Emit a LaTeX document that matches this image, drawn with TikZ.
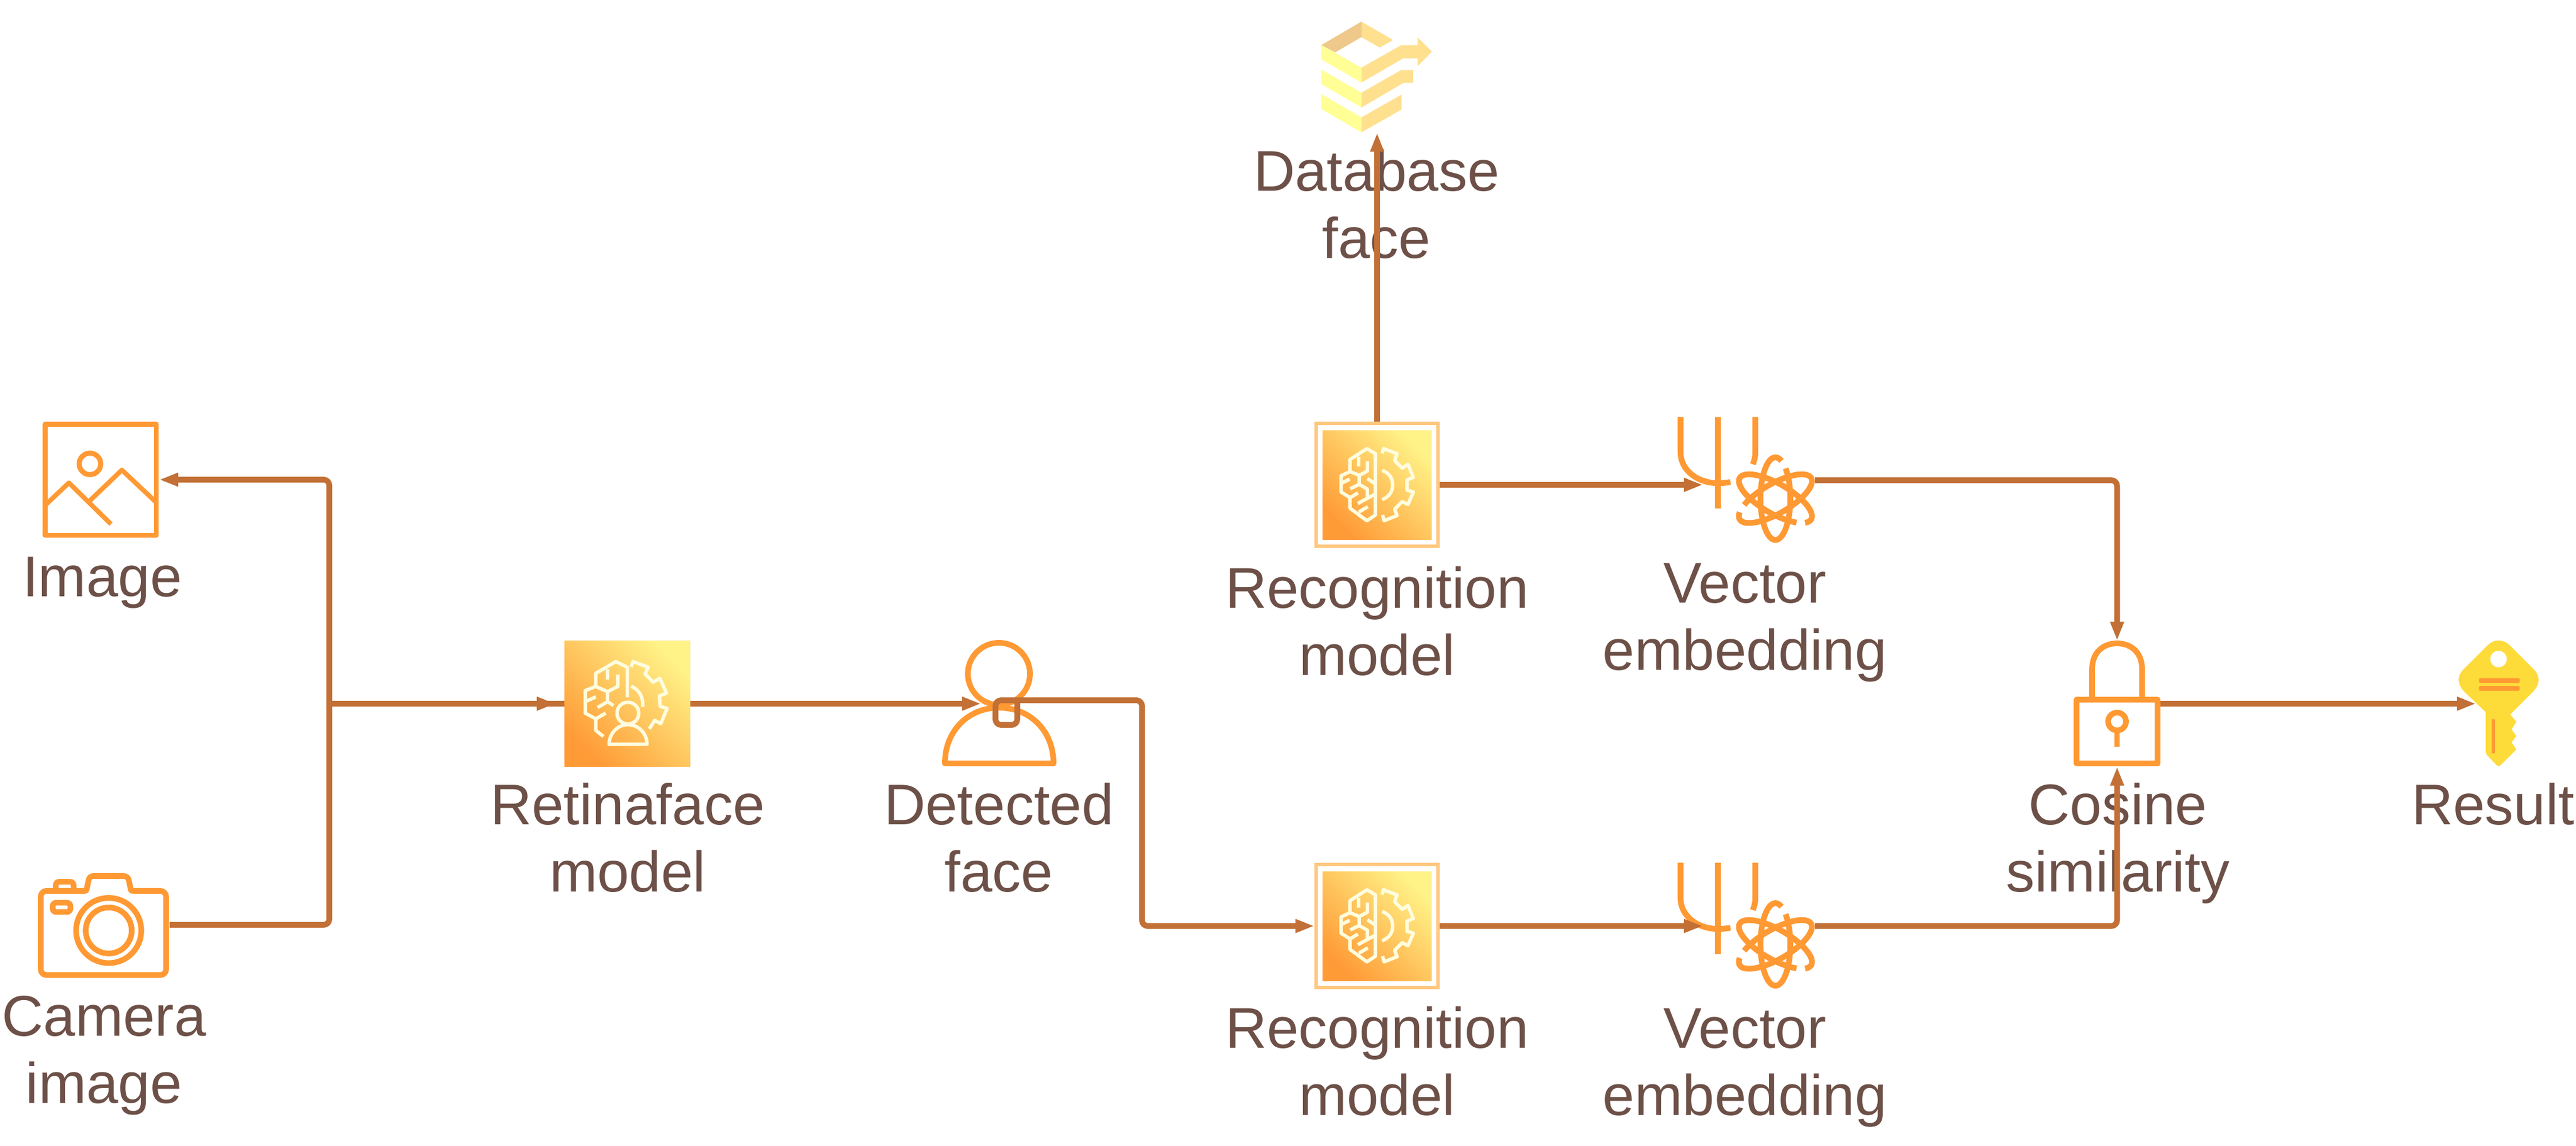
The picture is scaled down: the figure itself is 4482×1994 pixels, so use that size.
\documentclass[tikz,border=0pt]{standalone}
\usepackage{fontspec}
\setmainfont{Liberation Sans}
\usetikzlibrary{arrows.meta}
\definecolor{wirec}{HTML}{C27036}
\definecolor{iconc}{HTML}{FF9933}
\definecolor{textc}{HTML}{6D5047}
\definecolor{framec}{HTML}{FFC87F}
\definecolor{creamc}{HTML}{FFFDDF}
\definecolor{gradlo}{HTML}{FF9B37}
\definecolor{gradhi}{HTML}{FFF287}
\definecolor{dbtan}{HTML}{EEC98B}
\definecolor{dbgold}{HTML}{FFE08F}
\definecolor{dbyel}{HTML}{FFFF96}
\definecolor{keyhi}{HTML}{FDDC3A}
\definecolor{keylo}{HTML}{FDB84C}
\pgfdeclareradialshading{keyrad}{\pgfpoint{0bp}{0bp}}{color(0bp)=(keyhi); color(22bp)=(keyhi); color(50bp)=(keylo)}
\tikzset{
  wire/.style={draw=wirec,line width=2.85pt,rounded corners=0.1cm,line join=round},
  tipped/.style={-{Triangle[length=0.33cm,width=0.22cm]}},
  iconline/.style={draw=iconc,line width=2.8pt,line join=round,fill=none},
  creamline/.style={draw=creamc,line width=1.7pt,line join=round,fill=none},
  holder/.style={inner sep=0pt,outer sep=0pt,draw=none},
  lbl/.style={text=textc,align=center,inner sep=0pt,anchor=base,font=\fontsize{28.4pt}{33.2pt}\selectfont},
}
\newcommand{\gradsq}[4]{\shade[bottom color=gradlo,top color=gradhi,shading angle=-45] (#1,#2) rectangle (#3,#4);}
\newcommand{\recicon}[1]{%
 \begin{scope}[shift={(2300,#1)},x=0.003333cm,y=-0.003333cm]
  \draw[creamline] (280,135)--(235,108)--(147,165)--(147,228)--(100,250)--(100,335)--(147,365)--(147,420)--(235,485)--(280,455)--cycle;
  \draw[creamline] (147,228)--(195,248)--(238,225)--(238,175);
  \draw[creamline] (193,150)--(193,200);
  \draw[creamline] (195,248)--(195,295)--(148,318);
  \draw[creamline] (195,295)--(238,320)--(238,365);
  \draw[creamline] (188,395)--(280,345);
  \draw[creamline] (238,265)--(275,290);
  \draw[creamline] (100,290)--(145,268);
  \draw[creamline] (147,365)--(188,340);
  \draw[creamline] (193,440)--(240,412);
  \draw[creamline] (315,133)--(322,108)--(393,135)--(380,170)--(420,210)--(450,190)--(478,258)--(445,272)--(445,325)--(478,335)--(450,400)--(420,385)--(380,425)--(393,458)--(325,485)--(317,455);
  \draw[creamline] (315,222) .. controls (350,235) and (370,260) .. (370,298) .. controls (370,335) and (350,360) .. (315,375);
 \end{scope}}
\newcommand{\vecicon}[1]{%
 \begin{scope}[shift={(2900,#1)},x=0.003333cm,y=-0.003333cm]
  \draw[iconline,line width=2.85pt] (72,78)--(72,262) .. controls (72,360) and (165,424) .. (268,424) .. controls (290,424) and (312,422) .. (333,418);
  \draw[iconline,line width=2.85pt] (268,78)--(268,555);
  \draw[iconline,line width=2.85pt] (463,78)--(463,262) .. controls (463,285) and (458,305) .. (450,325);
  \foreach \r in {0,120,240}{
   \begin{scope}[shift={(568,505)},rotate=\r]
    \draw[iconline,line width=2.85pt] plot[domain=-47:294,samples=90,smooth] ({78*cos(\x)},{216*sin(\x)});
   \end{scope}}
 \end{scope}}
\begin{document}
\begin{tikzpicture}[x=0.01cm,y=-0.01cm]
\useasboundingbox (0,0) rectangle (4482,1994);
% holders for the icons
\node[holder,minimum width=2.02cm,minimum height=2.02cm] (imgn) at (176,835) {};
\node[holder,minimum width=2.29cm,minimum height=1.86cm] (camn) at (180.5,1610) {};
\node[holder,minimum width=2.19cm,minimum height=2.19cm] (retn) at (1091.5,1225) {};
\node[holder,minimum width=1.99cm,minimum height=2.19cm] (facen) at (1738,1225) {};
\node[holder,minimum width=1.93cm,minimum height=1.93cm] (dbn) at (2396,134.5) {};
\node[draw=framec,fill=white,line width=1.7pt,inner sep=0pt,minimum width=2.12cm,minimum height=2.13cm] (rec1) at (2396,844) {};
\node[draw=framec,fill=white,line width=1.7pt,inner sep=0pt,minimum width=2.12cm,minimum height=2.13cm] (rec2) at (2396,1612) {};
\node[holder,minimum width=2.40cm,minimum height=2.20cm] (vec1) at (3038,836) {};
\node[holder,minimum width=2.40cm,minimum height=2.20cm] (vec2) at (3038,1612) {};
\node[holder,minimum width=1.51cm,minimum height=2.19cm] (lockn) at (3683.5,1225) {};
\node[holder,minimum width=1.37cm,minimum height=2.19cm] (keyn) at (4347,1225) {};
\coordinate (jn) at (573,1225);
\coordinate (vec1in) at (2963,844);
\coordinate (vec2in) at (2963,1612);
\coordinate (retstop) at (967,1225);
\coordinate (facein) at (1707,1225);
\coordinate (faceout) at (1770,1219);
\coordinate (keyin) at (4308,1225);
\coordinate (bendx) at (1987,1219);
% image icon
\begin{scope}[shift={(60,720)},x=0.003333cm,y=-0.003333cm]
 \draw[iconline,line width=2.5pt] (55,56) rectangle (637,637);
 \draw[iconline,line width=2.5pt] (290,263) circle[radius=0.187cm];
 \draw[iconline,line width=2.3pt] (55,480)--(180,362)--(400,578);
 \draw[iconline,line width=2.3pt] (290,455)--(457,295)--(637,465);
\end{scope}
% camera icon
\begin{scope}[shift={(50,1500)},x=0.003333cm,y=-0.003333cm]
 \draw[iconline] (93,153)--(290,153) .. controls (300,153) and (302,150) .. (304,140) -- (312,100) .. controls (315,82) and (325,75) .. (340,75) -- (495,75) .. controls (510,75) and (520,82) .. (524,100) -- (532,140) .. controls (534,150) and (536,153) .. (546,153) -- (688,153) .. controls (705,153) and (718,166) .. (718,183) -- (718,563) .. controls (718,580) and (705,593) .. (688,593) -- (93,593) .. controls (76,593) and (63,580) .. (63,563) -- (63,183) .. controls (63,166) and (76,153) .. (93,153) -- cycle;
 \draw[iconline] (141,150)--(141,125) .. controls (141,112) and (150,105) .. (160,105) -- (215,105) .. controls (226,105) and (235,112) .. (235,125) -- (235,150);
 \draw[iconline,rounded corners=0.06cm] (125,215) rectangle (218,263);
 \draw[iconline] (418,360) circle[radius=0.567cm];
 \draw[iconline] (418,360) circle[radius=0.4cm];
\end{scope}
% retinaface icon
\gradsq{982}{1334}{1201}{1115}
\begin{scope}[shift={(980,1115)},x=0.003333cm,y=-0.003333cm]
 \draw[creamline] (335,297)--(335,140)--(275,110)--(170,172)--(170,240)--(115,262)--(115,380)--(170,410)--(170,470)--(210,502);
 \draw[creamline] (230,150)--(230,205);
 \draw[creamline] (170,240)--(232,268)--(285,240)--(285,178);
 \draw[creamline] (232,268)--(232,320);
 \draw[creamline] (180,350)--(232,320)--(262,340);
 \draw[creamline] (115,320)--(170,295);
 \draw[creamline] (170,410)--(222,380);
 \draw[creamline] (338,380) circle[radius=0.19cm];
 \draw[creamline] (240,543) .. controls (240,485) and (285,440) .. (338,440) .. controls (392,440) and (438,485) .. (438,543) -- cycle;
 \draw[creamline] (355,138)--(365,110)--(445,140)--(428,175)--(470,218)--(505,198)--(540,275)--(503,290)--(507,345)--(543,355)--(510,435)--(478,418)--(450,462);
 \draw[creamline] (355,240) .. controls (395,255) and (420,295) .. (415,348);
\end{scope}
% person icon
\draw[iconline] (1738,1173) circle[radius=0.54cm];
\draw[iconline] (1644,1329) .. controls (1644,1272) and (1685,1232) .. (1738,1232) .. controls (1792,1232) and (1833,1272) .. (1833,1329) -- cycle;
% database icon
\begin{scope}[shift={(2200,0)},x=0.003333cm,y=-0.003333cm]
 \fill[dbtan] (297,236)--(507,113)--(507,194)--(370,274)--cycle;
 \fill[dbgold] (507,113)--(672,209)--(602,249)--(507,194)--cycle;
 \fill[dbyel] (297,236)--(507,354)--(507,432)--(297,310)--cycle;
 \fill[dbgold] (507,354)--(716,236)--(801,236)--(801,196)--(876,270)--(801,346)--(801,305)--(726,305)--(507,432)--cycle;
 \fill[dbyel] (297,364)--(507,485)--(507,562)--(297,440)--cycle;
 \fill[dbgold] (507,485)--(716,366)--(778,366)--(778,434)--(726,434)--(507,562)--cycle;
 \fill[dbyel] (297,492)--(507,614)--(507,692)--(297,570)--cycle;
 \fill[dbgold] (507,614)--(717,495)--(717,573)--(507,692)--cycle;
\end{scope}
% recognition icons
\gradsq{2301}{939}{2491}{749}
\recicon{745}
\gradsq{2301}{1707}{2491}{1517}
\recicon{1513}
% vector icons
\vecicon{700}
\vecicon{1476}
% lock icon
\draw[iconline] (3640,1213)--(3640,1165) .. controls (3640,1135) and (3660,1120) .. (3683.5,1120) .. controls (3707,1120) and (3727,1135) .. (3727,1165) -- (3727,1213);
\draw[iconline] (3613,1218) rectangle (3754,1329);
\draw[iconline] (3683.5,1256) circle[radius=0.155cm];
\draw[iconline] (3683.5,1272)--(3683.5,1300);
% key icon
\begin{scope}[shift={(4270,1100)},x=0.003333cm,y=-0.003333cm]
 \shade[shading=keyrad] (232,45) .. controls (255,45) and (275,55) .. (290,70) -- (415,195) .. controls (450,230) and (450,270) .. (415,310) -- (293,432) -- (325,470) -- (300,510) -- (325,545) -- (300,578) -- (325,615) -- (250,690) .. controls (240,705) and (225,705) .. (215,690) -- (172,645) .. controls (167,638) and (165,632) .. (165,625) -- (165,420) -- (50,310) .. controls (15,270) and (15,230) .. (50,195) -- (175,70) .. controls (190,55) and (210,45) .. (232,45) -- cycle;
 \fill[white] (232,142) circle[radius=0.143cm];
 \fill[iconc,rounded corners=0.02cm] (130,242) rectangle (342,267);
 \fill[iconc,rounded corners=0.02cm] (130,283) rectangle (342,308);
 \fill[iconc,rounded corners=0.02cm] (196,456) rectangle (213,636);
\end{scope}
% labels
\node[lbl] (timage) at (178,1038) {Image};
\node[lbl] (tcam) at (181,1920) {Camera\\image};
\node[lbl] (tret) at (1092,1552) {Retinaface\\model};
\node[lbl] (tface) at (1738,1552) {Detected\\face};
\node[lbl] (tdb) at (2395,449) {Database\\face};
\node[lbl] (trec1) at (2396,1175) {Recognition\\model};
\node[lbl] (tvec1) at (3036,1166) {Vector\\embedding};
\node[lbl] (trec2) at (2396,1941) {Recognition\\model};
\node[lbl] (tvec2) at (3036,1941) {Vector\\embedding};
\node[lbl] (tcos) at (3685,1552) {Cosine\\similarity};
\node[lbl,anchor=base east] (tres) at (4480,1435) {Result};
% connectors
\draw[wire] (camn.east) -- (jn |- camn.east) -- (jn);
\draw[wire,tipped] (jn) -- (jn |- imgn.east) -- (imgn.east);
\draw[wire] (jn) -- (retn.west);
\draw[wire,tipped] (jn) -- (retstop);
\draw[wire,tipped] (retn.east) -- (facein);
\draw[wire,tipped] (faceout) -- (faceout |- 0,1262) -- (1732,1262) -- (1732,1219) -- (bendx) -- (bendx |- rec2.west) -- (rec2.west);
\draw[wire,tipped] (rec1.east) -- (vec1in);
\draw[wire,tipped] (rec2.east) -- (vec2in);
\draw[wire,tipped] (rec1.north) -- (dbn.south);
\draw[wire,tipped] (vec1.east) -- (lockn.north |- vec1.east) -- (lockn.north);
\draw[wire,tipped] (vec2.east) -- (lockn.south |- vec2.east) -- (lockn.south);
\draw[wire,tipped] (lockn.east) -- (keyin);
\end{tikzpicture}
\end{document}
